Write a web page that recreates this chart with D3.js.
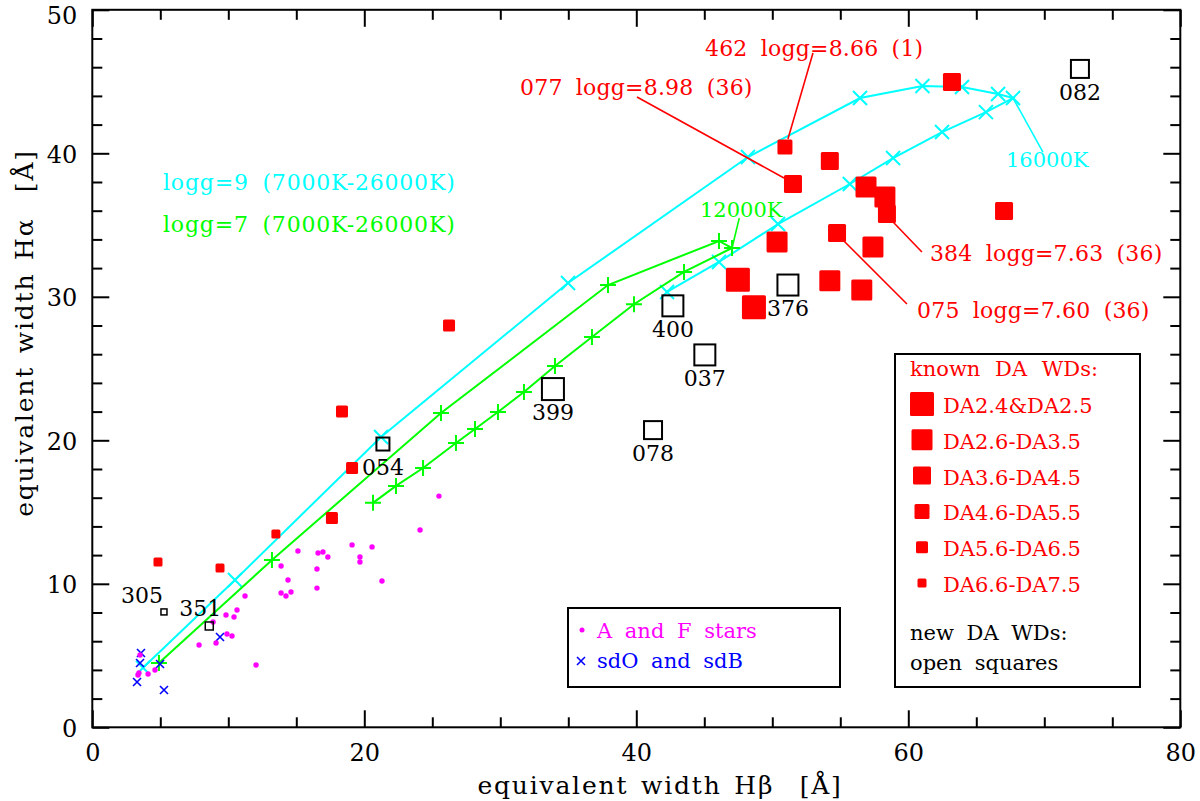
<!DOCTYPE html>
<html>
<head>
<meta charset="utf-8">
<script src="https://cdn.jsdelivr.net/npm/d3@7"></script>
<style>
	body { margin: 0; background: #fff; }
	text { font-family: "DejaVu Serif", serif; white-space: pre; }
</style>
</head>
<body>
<svg id="chart" width="1200" height="801"></svg>
<script>
// model tracks, Hbeta / Halpha equivalent widths [A]
// logg=9: 7000K up to the 16000K turn, then back down to 26000K
const logg9Hb = [3.73, 10.49, 21.23, 34.98, 48.21, 56.45, 61.04, 63.95, 66.6, 67.7, 65.71, 62.48, 58.88, 55.7, 50.42, 46.08, 42.26];
const logg9Ha = [4.15, 10.27, 20.23, 30.96, 39.74, 43.85, 44.69, 44.62, 44.13, 43.85, 42.87, 41.48, 39.67, 37.86, 35.07, 32.43, 30.34];
const logg9Turn = 9;
// logg=7: 7000K up to the 12000K turn, then back to 26000K
const logg7Hb = [4.9, 13.21, 25.64, 37.92, 46.08, 47.04, 43.51, 39.83, 36.74, 34.02, 31.74, 29.83, 28.14, 26.74, 24.32, 22.33, 20.64];
const logg7Ha = [4.48, 11.66, 21.9, 30.82, 33.89, 33.4, 31.73, 29.48, 27.2, 25.18, 23.37, 21.97, 20.79, 19.81, 18.07, 16.82, 15.64];
const logg7Turn = 5;

// known DA white dwarfs, class = index in daClasses
const daClasses = ["DA2.4&DA2.5", "DA2.6-DA3.5", "DA3.6-DA4.5", "DA4.6-DA5.5", "DA5.6-DA6.5", "DA6.6-DA7.5"];
const knownHb = [63.21, 50.93, 54.23, 51.52, 56.89, 58.28, 58.43, 67.04, 50.35, 54.76, 57.4, 47.47, 54.23, 56.58, 48.65, 26.23, 18.36, 19.1, 17.62, 13.5, 4.83, 9.39];
const knownHa = [44.97, 40.44, 39.46, 37.86, 37.65, 36.95, 35.77, 35.98, 33.82, 34.45, 33.47, 31.18, 31.11, 30.48, 29.28, 28.0, 22.0, 18.07, 14.58, 13.47, 11.52, 11.1];
const knownClass = [2, 3, 2, 2, 1, 1, 2, 2, 1, 2, 1, 0, 1, 1, 0, 4, 4, 4, 4, 5, 5, 5];

// new DA white dwarfs (open squares)
const newNames = ["082", "376", "400", "037", "399", "078", "054", "305", "351"];
const newHb = [72.62, 51.15, 42.69, 45.04, 33.87, 41.23, 21.37, 5.27, 8.6];
const newHa = [45.88, 30.82, 29.37, 25.95, 23.57, 20.71, 19.74, 8.04, 7.06];

// A and F stars
const afHb = [3.51, 3.43, 3.36, 4.1, 4.61, 7.85, 8.88, 9.1, 9.83, 9.9, 10.27, 10.42, 10.64, 11.23, 12.04, 13.88, 14.39, 13.88, 14.24, 14.61, 15.12, 16.6, 16.96, 17.32, 16.52, 19.1, 20.57, 19.68, 19.68, 16.52, 21.3, 24.1, 25.49];
const afHa = [5.04, 3.79, 3.64, 3.71, 3.99, 5.74, 7.34, 5.87, 7.83, 6.5, 6.36, 7.69, 8.17, 9.15, 4.34, 11.24, 10.27, 9.36, 9.15, 9.43, 12.29, 12.15, 12.22, 11.87, 11.03, 12.71, 12.57, 11.87, 11.52, 9.7, 10.19, 13.75, 16.11];

// sdO and sdB stars
const sdHb = [3.58, 3.51, 3.29, 4.98, 5.27, 9.39];
const sdHa = [5.18, 4.48, 3.16, 4.41, 2.6, 6.29];

// red call-outs: text start, line from, line to (data coords)
const noteText = ["462 logg=8.66 (1)", "077 logg=8.98 (36)", "384 logg=7.63 (36)", "075 logg=7.60 (36)"];
const noteAt = [[45.05, 46.78], [31.45, 44.06], [61.59, 32.49], [60.64, 28.52]];
const noteFrom = [[52.99, 46.99], [40.05, 43.92], [58.88, 35.21], [55.19, 33.96]];
const noteTo = [[51.15, 40.99], [50.86, 38.28], [61.0, 33.12], [59.9, 29.5]];

const xMajor = [0, 20, 40, 60, 80];
const yMajor = [0, 10, 20, 30, 40, 50];

// ---- styles
const CYAN = "#00ffff", GREEN = "#00ff00", RED = "#ff0000", MAGENTA = "#ff00ff", BLUE = "#0000ff";
const classSize = [24, 21, 18, 15, 12, 9];
const newSize = { "082": 18, "376": 21, "400": 21, "037": 21, "399": 22, "078": 18, "054": 13, "305": 6, "351": 8 };
const newLabel = { "305": { dx: -1, dy: -9, anchor: "end" }, "351": { dx: 12, dy: -10, anchor: "end" } };

const frame = { left: 92.3, right: 1180.3, top: 9.8, bottom: 727.3 };

const svg = d3.select("#chart");

const x = d3.scaleLinear().domain([0, 80]).range([frame.left, frame.right]);
const y = d3.scaleLinear().domain([0, 50]).range([frame.bottom, frame.top]);

function styleAxis(g, labels) {
	g.attr("font-family", "DejaVu Serif").attr("font-size", 24);
	g.select(".domain").remove();
	g.selectAll(".tick line").attr("stroke", "#000").attr("stroke-width", 2);
	if (!labels) g.selectAll(".tick text").remove();
	else g.selectAll(".tick text").attr("fill", "#000");
}

const xMinor = d3.range(0, 81, 5).filter(v => !xMajor.includes(v));
const yMinor = d3.range(0, 51, 2).filter(v => !yMajor.includes(v));

// bottom / top
svg.append("g").attr("transform", `translate(0,${frame.bottom})`)
	.call(d3.axisBottom(x).tickValues(xMajor).tickSize(-17).tickPadding(17).tickFormat(d3.format("d")))
	.call(g => styleAxis(g, true));
svg.append("g").attr("transform", `translate(0,${frame.bottom})`)
	.call(d3.axisBottom(x).tickValues(xMinor).tickSize(-10))
	.call(g => styleAxis(g, false));
svg.append("g").attr("transform", `translate(0,${frame.top})`)
	.call(d3.axisTop(x).tickValues(xMajor).tickSize(-17))
	.call(g => styleAxis(g, false));
svg.append("g").attr("transform", `translate(0,${frame.top})`)
	.call(d3.axisTop(x).tickValues(xMinor).tickSize(-10))
	.call(g => styleAxis(g, false));

// left / right
svg.append("g").attr("transform", `translate(${frame.left},0)`)
	.call(d3.axisLeft(y).tickValues(yMajor).tickSize(-17).tickPadding(15).tickFormat(d3.format("d")))
	.call(g => styleAxis(g, true))
	// top label sits lower so it stays inside the page
	.call(g => g.selectAll(".tick text").attr("dy", d => d === 50 ? 14 : 9));
svg.append("g").attr("transform", `translate(${frame.left},0)`)
	.call(d3.axisLeft(y).tickValues(yMinor).tickSize(-10))
	.call(g => styleAxis(g, false));
svg.append("g").attr("transform", `translate(${frame.right},0)`)
	.call(d3.axisRight(y).tickValues(yMajor).tickSize(-17))
	.call(g => styleAxis(g, false));
svg.append("g").attr("transform", `translate(${frame.right},0)`)
	.call(d3.axisRight(y).tickValues(yMinor).tickSize(-10))
	.call(g => styleAxis(g, false));

svg.append("rect")
	.attr("x", frame.left).attr("y", frame.top)
	.attr("width", frame.right - frame.left).attr("height", frame.bottom - frame.top)
	.attr("fill", "none").attr("stroke", "#000").attr("stroke-width", 2);

// axis titles
svg.append("text")
	.attr("x", 660).attr("y", 794)
	.attr("text-anchor", "middle").attr("font-size", 25)
	.attr("letter-spacing", 1.8).attr("word-spacing", 3)
	.text("equivalent width Hβ  [Å]");
svg.append("text")
	.attr("transform", "translate(33,333) rotate(-90)")
	.attr("text-anchor", "middle").attr("font-size", 25)
	.attr("letter-spacing", 1.8).attr("word-spacing", 3)
	.text("equivalent width Hα  [Å]");

const plot = svg.append("g");

// ---- model tracks
function track(hb, ha, colour, shape) {
	const pts = hb.map((v, i) => [x(v), y(ha[i])]);
	plot.append("path")
		.attr("d", d3.line()(pts))
		.attr("fill", "none").attr("stroke", colour).attr("stroke-width", 2);
	plot.append("g").selectAll("path")
		.data(pts)
		.enter().append("path")
		.attr("transform", d => `translate(${d[0]},${d[1]})`)
		.attr("d", shape)
		.attr("fill", "none").attr("stroke", colour).attr("stroke-width", 2);
}

track(logg9Hb, logg9Ha, CYAN, "M-7,-7L7,7M-7,7L7,-7");
track(logg7Hb, logg7Ha, GREEN, "M-8,0H8M0,-8V8");

// sdO / sdB
plot.append("g").selectAll("path")
	.data(sdHb)
	.enter().append("path")
	.attr("transform", (d, i) => `translate(${x(d)},${y(sdHa[i])})`)
	.attr("d", "M-4,-4L4,4M-4,4L4,-4")
	.attr("stroke", BLUE).attr("stroke-width", 1.6);

// A and F stars
plot.append("g").selectAll("circle")
	.data(afHb)
	.enter().append("circle")
	.attr("cx", d => x(d))
	.attr("cy", (d, i) => y(afHa[i]))
	.attr("r", 2.7)
	.attr("fill", MAGENTA);

// known DA WDs
plot.append("g").selectAll("rect")
	.data(knownHb)
	.enter().append("rect")
	.attr("x", (d, i) => x(d) - classSize[knownClass[i]] / 2)
	.attr("y", (d, i) => y(knownHa[i]) - classSize[knownClass[i]] / 2)
	.attr("width", (d, i) => classSize[knownClass[i]])
	.attr("height", (d, i) => classSize[knownClass[i]])
	.attr("rx", 1.5)
	.attr("fill", RED);

// new DA WDs
const nw = plot.append("g").selectAll("g")
	.data(newNames)
	.enter().append("g")
	.attr("transform", (d, i) => `translate(${x(newHb[i])},${y(newHa[i])})`);

nw.append("rect")
	.attr("x", d => -newSize[d] / 2).attr("y", d => -newSize[d] / 2)
	.attr("width", d => newSize[d]).attr("height", d => newSize[d])
	.attr("fill", "none").attr("stroke", "#000")
	.attr("stroke-width", d => newSize[d] < 10 ? 1.5 : 2);

nw.append("text")
	.attr("x", d => newLabel[d] ? newLabel[d].dx : 0)
	.attr("y", d => newLabel[d] ? newLabel[d].dy : 31)
	.attr("text-anchor", d => newLabel[d] ? newLabel[d].anchor : "middle")
	.attr("font-size", 22)
	.text(d => d);

// ---- call-outs
const notes = plot.append("g");
noteText.forEach((t, i) => {
	notes.append("line")
		.attr("x1", x(noteFrom[i][0])).attr("y1", y(noteFrom[i][1]))
		.attr("x2", x(noteTo[i][0])).attr("y2", y(noteTo[i][1]))
		.attr("stroke", RED).attr("stroke-width", 1.6);
	notes.append("text")
		.attr("x", x(noteAt[i][0])).attr("y", y(noteAt[i][1]))
		.attr("font-size", 22).attr("word-spacing", 6).attr("letter-spacing", 0.2)
		.attr("fill", RED)
		.text(t);
});

// temperature pointers
const turn9 = [logg9Hb[logg9Turn], logg9Ha[logg9Turn]];
const turn7 = [logg7Hb[logg7Turn], logg7Ha[logg7Turn]];

notes.append("line")
	.attr("x1", x(turn9[0])).attr("y1", y(turn9[1]))
	.attr("x2", x(69.9)).attr("y2", y(40.08))
	.attr("stroke", CYAN).attr("stroke-width", 1.6);
notes.append("text")
	.attr("x", x(67.18)).attr("y", y(39.04))
	.attr("font-size", 21).attr("fill", CYAN)
	.text("16000K");

notes.append("line")
	.attr("x1", x(turn7[0])).attr("y1", y(turn7[1]))
	.attr("x2", x(47.57)).attr("y2", y(35.48))
	.attr("stroke", GREEN).attr("stroke-width", 1.6);
notes.append("text")
	.attr("x", x(44.68)).attr("y", y(35.55))
	.attr("font-size", 21).attr("fill", GREEN)
	.text("12000K");

// track legend
notes.append("text")
	.attr("x", x(5.2)).attr("y", y(37.43))
	.attr("font-size", 22).attr("word-spacing", 6).attr("letter-spacing", 0.8)
	.attr("fill", CYAN)
	.text("logg=9 (7000K-26000K)");
notes.append("text")
	.attr("x", x(5.2)).attr("y", y(34.5))
	.attr("font-size", 22).attr("word-spacing", 6).attr("letter-spacing", 0.8)
	.attr("fill", GREEN)
	.text("logg=7 (7000K-26000K)");

// ---- legend boxes
const lg1 = svg.append("g");
lg1.append("rect")
	.attr("x", 568).attr("y", 608).attr("width", 272).attr("height", 79)
	.attr("fill", "#fff").attr("stroke", "#000").attr("stroke-width", 2);
lg1.append("circle").attr("cx", 582).attr("cy", 630).attr("r", 2.5).attr("fill", MAGENTA);
lg1.append("path")
	.attr("transform", "translate(581,661)")
	.attr("d", "M-4,-4L4,4M-4,4L4,-4")
	.attr("stroke", BLUE).attr("stroke-width", 1.6);
lg1.append("text").attr("x", 597).attr("y", 638)
	.attr("font-size", 21).attr("word-spacing", 6).attr("fill", MAGENTA)
	.text("A and F stars");
lg1.append("text").attr("x", 597).attr("y", 668)
	.attr("font-size", 21).attr("word-spacing", 6).attr("fill", BLUE)
	.text("sdO and sdB");

const lg2 = svg.append("g");
lg2.append("rect")
	.attr("x", 895).attr("y", 354).attr("width", 245).attr("height", 333)
	.attr("fill", "#fff").attr("stroke", "#000").attr("stroke-width", 2);
lg2.append("text").attr("x", 910).attr("y", 376)
	.attr("font-size", 21).attr("word-spacing", 8).attr("fill", RED)
	.text("known DA WDs:");

const rows = lg2.selectAll("g.row")
	.data(daClasses)
	.enter().append("g")
	.attr("class", "row")
	.attr("transform", (d, i) => `translate(922,${404 + i * 35.8})`);
rows.append("rect")
	.attr("x", (d, i) => -classSize[i] / 2).attr("y", (d, i) => -classSize[i] / 2)
	.attr("width", (d, i) => classSize[i]).attr("height", (d, i) => classSize[i])
	.attr("rx", 1.5).attr("fill", RED);
rows.append("text")
	.attr("x", 21).attr("y", 9)
	.attr("font-size", 21).attr("fill", RED)
	.text(d => d);

lg2.append("text").attr("x", 910).attr("y", 640)
	.attr("font-size", 21).attr("word-spacing", 6)
	.text("new DA WDs:");
lg2.append("text").attr("x", 910).attr("y", 670)
	.attr("font-size", 21).attr("word-spacing", 6)
	.text("open squares");
</script>
</body>
</html>
